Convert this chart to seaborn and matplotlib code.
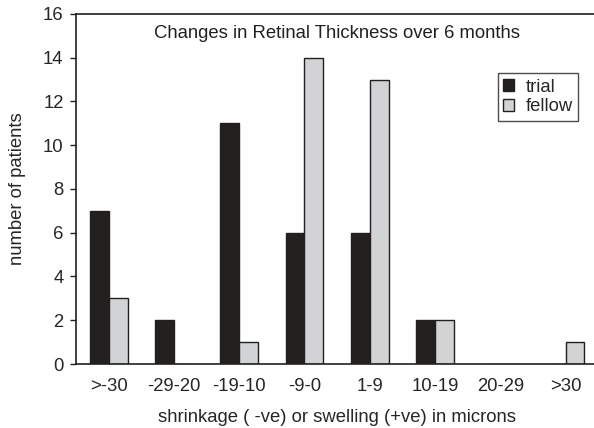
import numpy as np
import pandas as pd
import matplotlib
matplotlib.use("Agg")
import matplotlib.pyplot as plt
import seaborn as sns

# data
categories = [">-30", "-29-20", "-19-10", "-9-0", "1-9", "10-19", "20-29", ">30"]
trial = [7, 2, 11, 6, 6, 2, 0, 0]
fellow = [3, 0, 1, 14, 13, 2, 0, 1]

df = pd.DataFrame({
    "range": categories * 2,
    "count": trial + fellow,
    "group": ["trial"] * len(categories) + ["fellow"] * len(categories),
})

sns.set_style("white")
plt.rcParams["font.family"] = ["Liberation Sans", "DejaVu Sans"]
fs = 13.3

fig = plt.figure(figsize=(5.94, 4.28), dpi=100)
ax = fig.add_axes([0.128, 0.1495, 0.879, 0.818])

sns.barplot(data=df, x="range", y="count", hue="group", order=categories,
            hue_order=["trial", "fellow"],
            palette={"trial": "#231f20", "fellow": "#d1d3d4"},
            width=0.58, edgecolor="#231f20", linewidth=1.0, ax=ax)

ax.set_xlim(-0.5, len(categories) - 0.5)
ax.set_ylim(0, 16)
ax.set_yticks(range(0, 17, 2))

# category labels without ticks, small inward ticks on category boundaries
ax.tick_params(axis="x", which="major", length=0, labelsize=fs, pad=10)
ax.set_xticks(np.arange(0.5, len(categories) - 0.5, 1), minor=True)
ax.tick_params(axis="x", which="minor", direction="in", length=4, width=1, color="#231f20")
ax.tick_params(axis="y", direction="out", length=4, width=1, color="#231f20",
               labelsize=fs, left=True, pad=5)

for side in ["left", "top", "bottom"]:
    ax.spines[side].set_color("#231f20")
    ax.spines[side].set_linewidth(1.2)
ax.spines["right"].set_visible(False)

ax.set_xlabel("shrinkage ( -ve) or swelling (+ve) in microns", fontsize=fs, labelpad=10)
ax.set_ylabel("number of patients", fontsize=fs, labelpad=12)

ax.text(0.5, 0.943, "Changes in Retinal Thickness over 6 months", transform=ax.transAxes,
        ha="center", va="center", fontsize=fs, color="#231f20")

leg = ax.legend(loc="upper right", bbox_to_anchor=(0.962, 0.831), fontsize=fs,
                frameon=True, fancybox=False, edgecolor="#231f20",
                handlelength=0.6, handleheight=0.6, handletextpad=0.6,
                borderpad=0.3, labelspacing=0.15, borderaxespad=0)
leg.get_frame().set_linewidth(1.0)

fig.savefig("out.png", dpi=100)
